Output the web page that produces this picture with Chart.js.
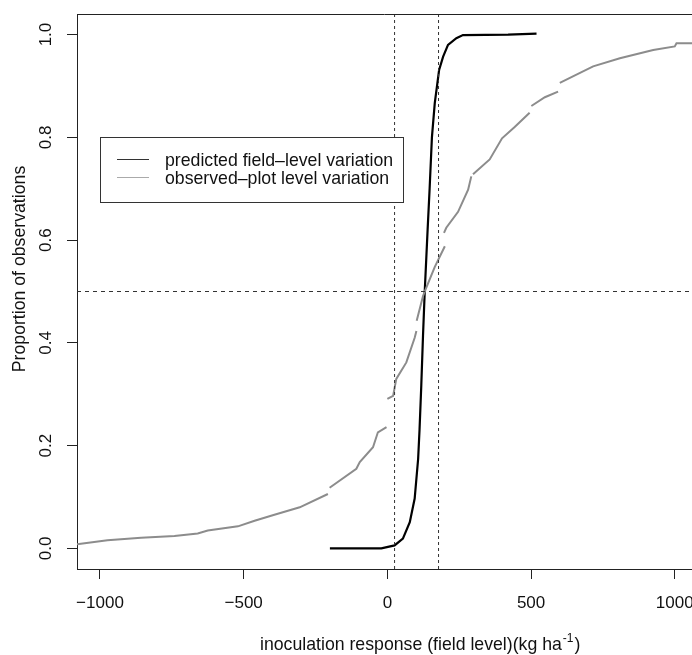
<!DOCTYPE html>
<html lang="en">
<head>
<meta charset="UTF-8">
<title>Inoculation response</title>
<script src="https://cdn.jsdelivr.net/npm/chart.js@4.4.0/dist/chart.umd.min.js"></script>
<style>
  html, body { margin: 0; padding: 0; background: #fff; overflow: hidden; }
</style>
</head>
<body>
<canvas id="myChart" width="692" height="655"></canvas>
<script>
// axis ticks
var xTicks = [-1000, -500, 0, 500, 1000];
var xTickLabels = ['\u22121000', '\u2212500', '0', '500', '1000'];
var yTicks = [0, 0.2, 0.4, 0.6, 0.8, 1.0];
var yTickLabels = ['0.0', '0.2', '0.4', '0.6', '0.8', '1.0'];

var legendLabels = ['predicted field\u2013level variation', 'observed\u2013plot level variation'];
var xTitle = 'inoculation response (field level)(kg ha';
var yTitle = 'Proportion of observations';

// predicted field-level curve
var predX = [-200, -21, 25, 54, 78, 95, 107, 112, 118, 124, 130, 140, 147, 155, 165, 180, 194, 211, 240, 263, 420, 519];
var predY = [0, 0, 0.006, 0.019, 0.051, 0.097, 0.174, 0.232, 0.317, 0.414, 0.5, 0.62, 0.70, 0.8, 0.867, 0.931, 0.957, 0.98, 0.993, 0.999, 1.0, 1.002];

// observed plot-level curve (null = break in the line)
var obsX = [-1080, -974, -857, -741, -660, -625, -520, -462, -396, -305, -207, null,
            -201, -108, -96, -50, -33, -3, null,
            0, 20, 31, 66, 95, 101, null,
            102, 124, 133, 165, 200, null,
            197, 205, 246, 281, 292, null,
            298, 356, 399, 443, 495, null,
            501, 548, 594, null,
            600, 658, 716, 809, 925, 1000, 1006, 1060];
var obsY = [0.008, 0.016, 0.021, 0.024, 0.029, 0.035, 0.043, 0.054, 0.065, 0.08, 0.106, null,
            0.118, 0.155, 0.168, 0.197, 0.226, 0.236, null,
            0.291, 0.297, 0.33, 0.362, 0.41, 0.423, null,
            0.443, 0.491, 0.504, 0.548, 0.588, null,
            0.614, 0.624, 0.655, 0.698, 0.724, null,
            0.728, 0.757, 0.798, 0.82, 0.848, null,
            0.861, 0.878, 0.889, null,
            0.906, 0.922, 0.938, 0.954, 0.970, 0.977, 0.983, 0.983];

// reference lines
var refX = [25, 178];
var refY = 0.5;
var xMin = -1080, xMax = 1060, yMin = -0.04, yMax = 1.04;

function pts(xs, ys) {
    return xs.map(function (x, i) { return { x: x === null ? NaN : x, y: ys[i] }; });
}

var FONT = "'Liberation Sans', Arial, Helvetica, sans-serif";
Chart.defaults.font.family = FONT;
Chart.defaults.color = '#111';

var datasets = [
    { data: pts([xMin, xMax], [refY, refY]), borderColor: '#333', borderWidth: 1, borderDash: [4, 4], pointRadius: 0 },
    { data: pts([refX[0], refX[0]], [yMin, yMax]), borderColor: '#333', borderWidth: 1, borderDash: [3, 3], pointRadius: 0 },
    { data: pts([refX[1], refX[1]], [yMin, yMax]), borderColor: '#333', borderWidth: 1, borderDash: [3, 3], pointRadius: 0 },
    { label: legendLabels[1], data: pts(obsX, obsY), borderColor: '#8c8c8c', borderWidth: 2, pointRadius: 0, spanGaps: false },
    { label: legendLabels[0], data: pts(predX, predY), borderColor: '#000', borderWidth: 2.2, pointRadius: 0 }
];

var extras = {
    id: 'extras',
    afterDraw: function (chart) {
        var c = chart.ctx, a = chart.chartArea, ys = chart.scales.y;
        c.save();
        // top border of the box
        c.strokeStyle = '#222';
        c.lineWidth = 1;
        c.beginPath();
        c.moveTo(a.left, a.top + 0.5);
        c.lineTo(a.right, a.top + 0.5);
        c.stroke();

        // rotated y tick labels
        c.fillStyle = '#111';
        c.font = '17px ' + FONT;
        c.textAlign = 'center';
        c.textBaseline = 'alphabetic';
        yTicks.forEach(function (v, i) {
            c.save();
            c.translate(51, ys.getPixelForValue(v));
            c.rotate(-Math.PI / 2);
            c.fillText(yTickLabels[i], 0, 0);
            c.restore();
        });

        // y title
        c.font = '17.7px ' + FONT;
        c.save();
        c.translate(25, 269);
        c.rotate(-Math.PI / 2);
        c.fillText(yTitle, 0, 0);
        c.restore();

        // x title with superscript
        c.textAlign = 'left';
        var x0 = 260, by = 650;
        c.fillText(xTitle, x0, by);
        var w = c.measureText(xTitle).width;
        c.font = '12px ' + FONT;
        c.fillText('-1', x0 + w + 1, by - 8);
        var w2 = c.measureText('-1').width;
        c.font = '17.7px ' + FONT;
        c.fillText(')', x0 + w + w2 + 2, by);

        // legend
        c.fillStyle = '#fff';
        c.fillRect(100.5, 137.5, 303, 65);
        c.strokeStyle = '#333';
        c.strokeRect(100.5, 137.5, 303, 65);
        var rows = [{ y: 159.5, col: '#333' }, { y: 177.5, col: '#aaa' }];
        rows.forEach(function (r, i) {
            c.strokeStyle = r.col;
            c.lineWidth = 1;
            c.beginPath();
            c.moveTo(117, r.y);
            c.lineTo(149, r.y);
            c.stroke();
            c.fillStyle = '#111';
            c.fillText(legendLabels[i], 165, r.y + 6);
        });
        c.restore();
    }
};

var ctx = document.getElementById('myChart').getContext('2d');
var myChart = new Chart(ctx, {
    type: 'line',
    data: { datasets: datasets },
    options: {
        responsive: false,
        animation: false,
        layout: { padding: { top: 14, right: 0, left: 0, bottom: 0 } },
        plugins: { legend: { display: false }, tooltip: { enabled: false } },
        elements: { line: { tension: 0 } },
        scales: {
            x: {
                type: 'linear', min: xMin, max: xMax,
                afterBuildTicks: function (s) { s.ticks = xTicks.map(function (v) { return { value: v }; }); },
                afterFit: function (s) { s.height = 86; s.paddingLeft = 0; s.paddingRight = 0; },
                grid: { drawOnChartArea: false, drawTicks: true, tickLength: 10, color: '#222' },
                border: { display: true, color: '#222', width: 1 },
                ticks: {
                    font: { size: 17 }, color: '#111', padding: 14, maxRotation: 0, autoSkip: false,
                    callback: function (v) { var i = xTicks.indexOf(v); return i < 0 ? '' : xTickLabels[i]; }
                }
            },
            y: {
                type: 'linear', min: yMin, max: yMax,
                afterBuildTicks: function (s) { s.ticks = yTicks.map(function (v) { return { value: v }; }); },
                afterFit: function (s) { s.width = 77; s.paddingTop = 0; s.paddingBottom = 0; },
                grid: { drawOnChartArea: false, drawTicks: true, tickLength: 10, color: '#222' },
                border: { display: true, color: '#222', width: 1 },
                ticks: { display: false }
            }
        }
    },
    plugins: [extras]
});
</script>
</body>
</html>
